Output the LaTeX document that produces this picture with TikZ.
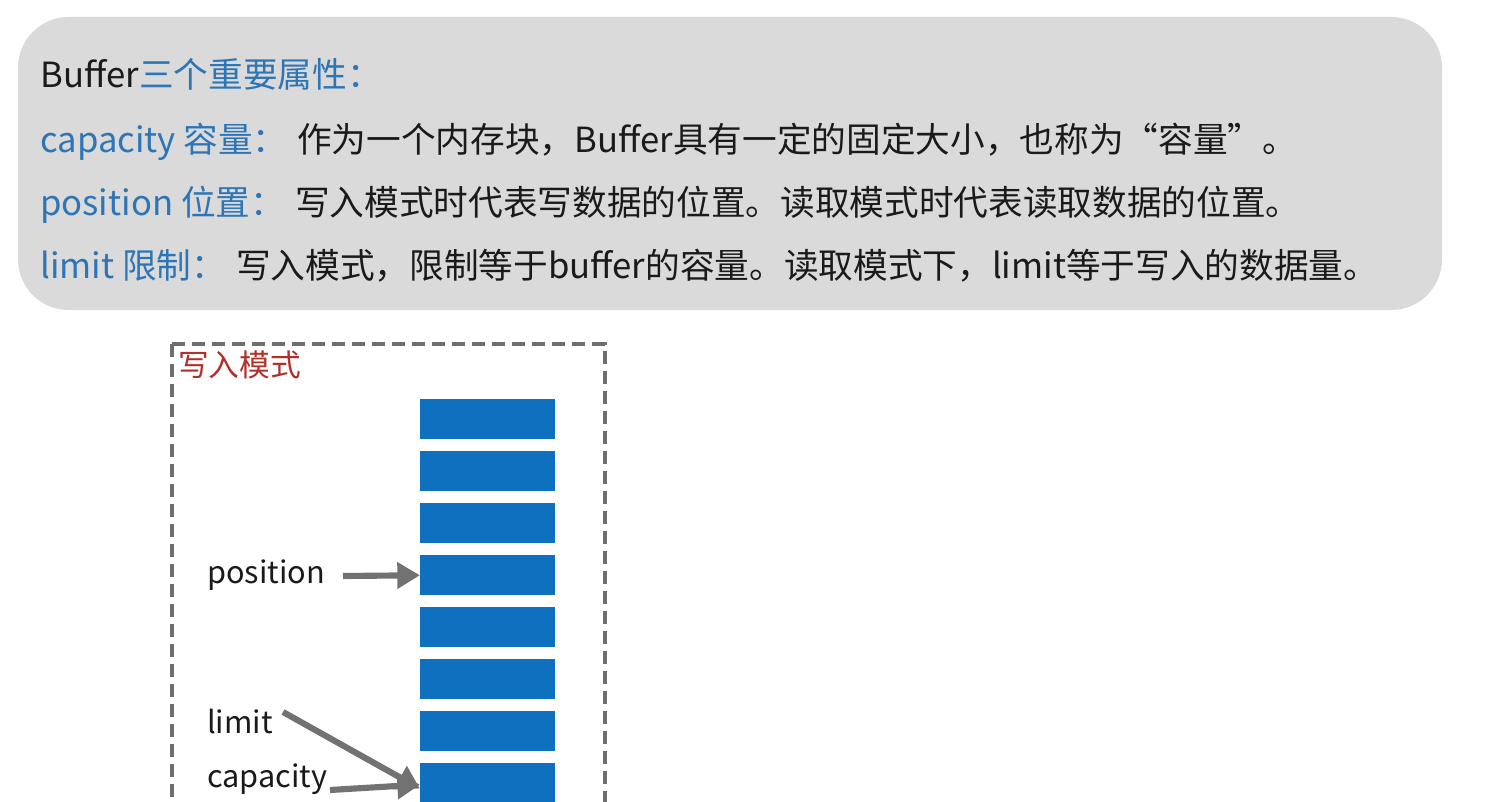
\documentclass[tikz,border=0pt]{standalone}
\usepackage{fontspec}
\setmainfont{Noto Sans CJK SC}
\usetikzlibrary{arrows.meta}
\definecolor{boxgray}{HTML}{DADADA}
\definecolor{txtblue}{HTML}{2E75B6}
\definecolor{txtblack}{HTML}{1A1A1A}
\definecolor{modered}{HTML}{B0302A}
\definecolor{barblue}{HTML}{0F70C0}
\definecolor{arrgray}{HTML}{727272}
\definecolor{dashgray}{HTML}{6E6E6E}
\tikzset{
  txt/.style={inner sep=0pt, anchor=base west, font=\fontsize{26}{30}\selectfont, text=txtblack},
  lbl/.style={txt, text=txtblue},
  small/.style={inner sep=0pt, anchor=base west, font=\fontsize{23}{27}\selectfont, text=txtblack},
  bar/.style={fill=barblue, draw=none, minimum width=135*0.75pt, minimum height=40*0.75pt, inner sep=0pt, anchor=north west},
  ptr/.style={draw=arrgray, line width=4.6pt, -{Triangle[length=17pt,width=19pt]}},
}
\begin{document}
\begin{tikzpicture}[x=0.75pt,y=-0.75pt]
\useasboundingbox (0,0) rectangle (1494,802);
\clip (0,0) rectangle (1494,802);
\fill[white] (0,0) rectangle (1494,802);
% grey panel
\fill[boxgray, rounded corners=38pt] (18,17) rectangle (1442,310);
\node[txt] (l1a) at (40,88) {Buffer};
\node[lbl, anchor=base west] (l1b) at (l1a.base east) {三个重要属性：};
\node[lbl] (l2a) at (40,153) {capacity 容量：};
\node[txt] (l2b) at (297,153) {作为一个内存块，Buffer具有一定的固定大小，也称为“容量”。};
\node[lbl] (l3a) at (40,216) {position 位置：};
\node[txt] (l3b) at (295,216) {写入模式时代表写数据的位置。读取模式时代表读取数据的位置。};
\node[lbl] (l4a) at (40,278) {limit 限制：};
\node[txt] (l4b) at (236,278) {写入模式，限制等于buffer的容量。读取模式下，limit等于写入的数据量。};
% dashed frame
\draw[dashgray, line width=2.4pt, dash pattern=on 10pt off 5pt] (172,344) -- (605,344) -- (605,820) (172,344) -- (172,820);
\node[inner sep=0pt, anchor=base west, font=\fontsize{23}{26}\selectfont, text=modered] (mode) at (178,376) {写入模式};
% bars
\foreach \i in {1,...,8} {
  \node[bar] (b\i) at (420,{399+52*(\i-1)}) {};
}
\node[small] (pos) at (207,583) {position};
\node[small] (lim) at (207,733) {limit};
\node[small] (cap) at (207,787) {capacity};
\coordinate (posS) at (343,576);
\coordinate (limS) at (283,712);
\coordinate (capS) at (330,790);
\draw[ptr] (posS) -- (b4.west);
\draw[ptr] (limS) -- ([yshift=-4pt]b8.west);
\draw[ptr] (capS) -- ([yshift=-1pt]b8.west);
\end{tikzpicture}
\end{document}
